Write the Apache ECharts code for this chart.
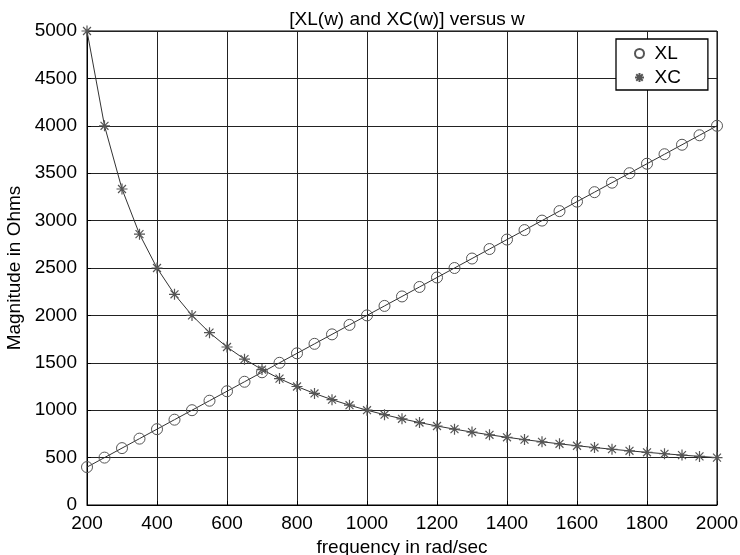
<!DOCTYPE html>
<html><head><meta charset="utf-8">
<script src="https://cdn.jsdelivr.net/npm/echarts@6/dist/echarts.min.js"></script>
<style>html,body{margin:0;padding:0;background:#fff}#c{width:740px;height:555px}</style>
</head><body><div id="c"></div>
<script>
const w = [200,250,300,350,400,450,500,550,600,650,700,750,800,850,900,950,1000,1050,1100,1150,1200,1250,1300,1350,1400,1450,1500,1550,1600,1650,1700,1750,1800,1850,1900,1950,2000];
const XL = [400,500,600,700,800,900,1000,1100,1200,1300,1400,1500,1600,1700,1800,1900,2000,2100,2200,2300,2400,2500,2600,2700,2800,2900,3000,3100,3200,3300,3400,3500,3600,3700,3800,3900,4000];
const XC = [5000,4000,3333.3,2857.1,2500,2222.2,2000,1818.2,1666.7,1538.5,1428.6,1333.3,1250,1176.5,1111.1,1052.6,1000,952.4,909.1,869.6,833.3,800,769.2,740.7,714.3,689.7,666.7,645.2,625,606.1,588.2,571.4,555.6,540.5,526.3,512.8,500];
const xTicks = [200,400,600,800,1000,1200,1400,1600,1800,2000];
const yTicks = [0,500,1000,1500,2000,2500,3000,3500,4000,4500,5000];

const font = 'Liberation Sans, Arial, Helvetica, sans-serif';
const star = 'path://M0,-5L0,5M-5,0L5,0M-3.6,-3.6L3.6,3.6M-3.6,3.6L3.6,-3.6';
const chart = echarts.init(document.getElementById('c'), null, {renderer: 'canvas'});
chart.setOption({
  animation: false,
  backgroundColor: '#fff',
  title: {text: '[XL(w) and XC(w)] versus w', left: 402, textAlign: 'center', top: 5,
    textStyle: {fontFamily: font, fontSize: 19, fontWeight: 'normal', color: '#000'}},
  grid: {left: 87, right: 23, top: 31, bottom: 50, show: true, borderColor: '#000', borderWidth: 1,
    containLabel: false, outerBoundsMode: 'none'},
  legend: {
    orient: 'vertical', left: 616, top: 39,
    padding: [5, 27, 3, 18], itemGap: 5, itemWidth: 20, itemHeight: 9,
    borderColor: '#000', borderWidth: 1.3, backgroundColor: '#fff',
    textStyle: {fontFamily: font, fontSize: 19, color: '#000', lineHeight: 19},
    data: [{name: 'XL', icon: 'circle'}, {name: 'XC', icon: star}]
  },
  xAxis: {
    type: 'value', min: 200, max: 2000, interval: 200,
    name: 'frequency in rad/sec', nameLocation: 'middle', nameGap: 29,
    nameTextStyle: {fontFamily: font, fontSize: 19, color: '#000'},
    axisLine: {lineStyle: {color: '#000', width: 1}},
    axisTick: {inside: true, length: 4, lineStyle: {color: '#000'}},
    axisLabel: {fontFamily: font, fontSize: 19, color: '#000', margin: 9, hideOverlap: false,
      formatter: v => xTicks.includes(v) ? String(v) : ''},
    splitLine: {show: true, lineStyle: {color: '#222', width: 1}}
  },
  yAxis: {
    type: 'value', min: 0, max: 5000, interval: 500,
    name: 'Magnitude in Ohms', nameLocation: 'middle', nameGap: 63,
    nameTextStyle: {fontFamily: font, fontSize: 19, color: '#000'},
    axisLine: {show: true, lineStyle: {color: '#000', width: 1}},
    axisTick: {show: true, inside: true, length: 4, lineStyle: {color: '#000'}},
    axisLabel: {fontFamily: font, fontSize: 19, color: '#000', margin: 10, hideOverlap: false,
      formatter: v => yTicks.includes(v) ? String(v) : ''},
    splitLine: {show: true, lineStyle: {color: '#222', width: 1}}
  },
  series: [
    {name: 'XL', type: 'line', data: w.map((x, i) => [x, XL[i]]),
     symbol: 'circle', symbolSize: 11, showAllSymbol: true,
     lineStyle: {color: '#333', width: 1},
     itemStyle: {color: 'rgba(0,0,0,0)', borderColor: '#555', borderWidth: 1}},
    {name: 'XC', type: 'line', data: w.map((x, i) => [x, XC[i]]),
     symbol: star, symbolSize: 11, showAllSymbol: true,
     lineStyle: {color: '#333', width: 1},
     itemStyle: {color: 'rgba(0,0,0,0)', borderColor: '#555', borderWidth: 1.2}}
  ]
});
</script></body></html>
